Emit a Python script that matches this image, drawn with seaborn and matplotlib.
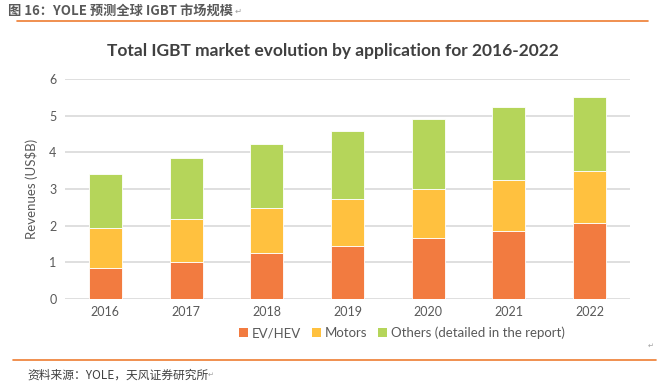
import matplotlib
matplotlib.use("Agg")
import matplotlib.pyplot as plt
import seaborn as sns
import pandas as pd
from matplotlib.patches import Patch
from matplotlib.lines import Line2D

years = ["2016", "2017", "2018", "2019", "2020", "2021", "2022"]
ev_hev = [0.85, 1.02, 1.25, 1.45, 1.67, 1.86, 2.06]
motors = [1.10, 1.16, 1.22, 1.29, 1.33, 1.39, 1.43]
others = [1.46, 1.67, 1.75, 1.84, 1.92, 1.99, 2.02]
series_names = ["EV/HEV", "Motors", "Others (detailed in the report)"]
yticks = [0, 1, 2, 3, 4, 5, 6]

colors = ["#F27B40", "#FFC13F", "#B5D55A"]

sns.set_theme(style="white")
plt.rcParams['font.family'] = ['Lato', 'DejaVu Sans']

W, H = 662, 388
fig = plt.figure(figsize=(W / 100, H / 100), dpi=100)
ax = fig.add_axes([65 / W, 1 - 299 / H, 565 / W, 220 / H])

df = pd.DataFrame({"year": years, "ev": ev_hev, "motors": motors, "others": others})
bottoms = [0.0] * len(years)
for col, c in zip(["ev", "motors", "others"], colors):
    sns.barplot(data=df, x="year", y=col, bottom=bottoms, color=c, width=0.41,
                edgecolor="white", linewidth=0.6, saturation=1, ax=ax)
    bottoms = [b + v for b, v in zip(bottoms, df[col])]

ax.set_ylim(0, 6)
ax.set_xlim(-0.5, len(years) - 0.5)
ax.set_yticks(yticks)
ax.set_yticklabels([str(t) for t in yticks])
ax.yaxis.grid(True, color="#D9D9D9", linewidth=1.2)
ax.set_axisbelow(True)
for s in ax.spines.values():
    s.set_visible(False)
ax.tick_params(axis="both", length=0, labelsize=9, colors="#595959")
ax.tick_params(axis="y", pad=6)
ax.tick_params(axis="x", pad=5)
ax.set_xlabel("")
ax.set_ylabel("Revenues (US$B)", fontsize=9.5, color="#595959", labelpad=8)

fig.text(333 / W, 1 - 51 / H, "Total IGBT market evolution by application for 2016-2022",
         ha="center", va="center", fontsize=12.5, fontweight="bold", color="#404040")

handles = [Patch(facecolor=c, edgecolor="none") for c in colors]
fig.legend(handles, series_names, loc="center", bbox_to_anchor=(402 / W, 1 - 333 / H),
           ncol=3, frameon=False, fontsize=9.5, handlelength=0.7, handleheight=0.7,
           handletextpad=0.3, columnspacing=0.8, labelcolor="#595959")

cjk = ['Noto Sans CJK SC', 'DejaVu Sans']
fig.text(8 / W, 1 - 11 / H, "图 16：YOLE 预测全球 IGBT 市场规模", ha="left", va="center",
         fontsize=9.5, fontweight="bold", color="#595959", family=cjk)
fig.text(235 / W, 1 - 11 / H, "↵", ha="left", va="center", fontsize=6, color="#A0A0A0",
         family=['DejaVu Sans'])
fig.add_artist(Line2D([17 / W, 648 / W], [1 - 21 / H, 1 - 21 / H], color="#ED7D31", linewidth=1.2))
fig.text(648 / W, 1 - 346 / H, "↵", ha="left", va="center", fontsize=5, color="#A0A0A0",
         family=['DejaVu Sans'])
fig.add_artist(Line2D([13 / W, 656 / W], [1 - 360 / H, 1 - 360 / H], color="#ED7D31", linewidth=1.2))
fig.text(27 / W, 1 - 375 / H, "资料来源：YOLE，天风证券研究所", ha="left", va="center",
         fontsize=8.5, color="#404040", family=cjk)
fig.text(208 / W, 1 - 375 / H, "↵", ha="left", va="center", fontsize=5, color="#A0A0A0",
         family=['DejaVu Sans'])

fig.savefig("out.png", dpi=100)
